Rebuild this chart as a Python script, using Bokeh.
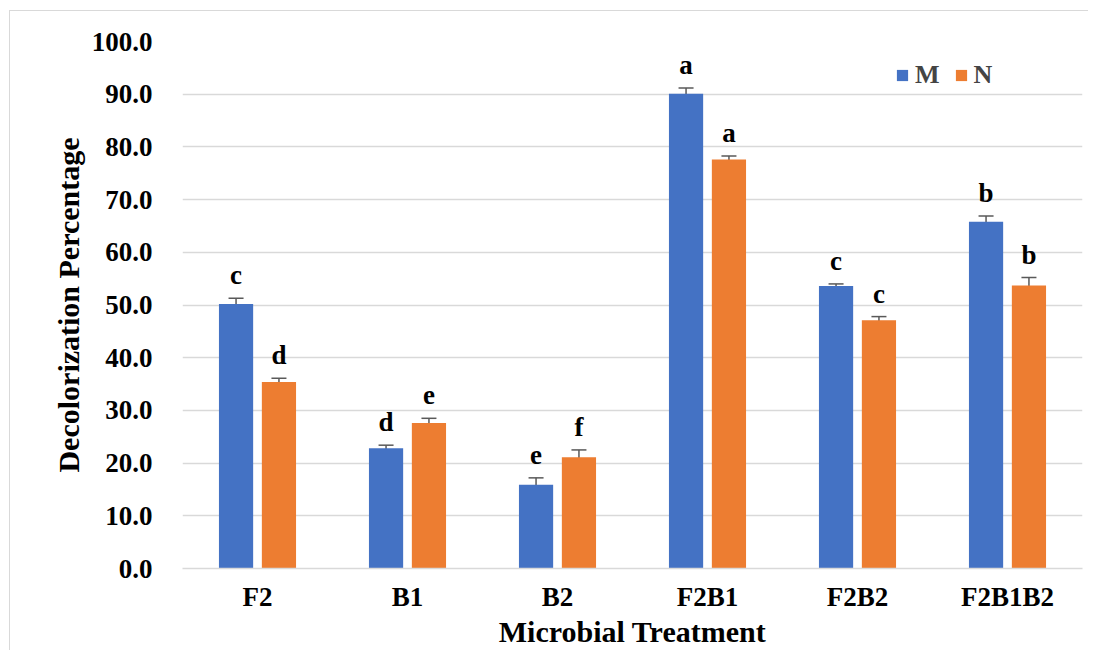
from bokeh.plotting import figure
from bokeh.models import (ColumnDataSource, FactorRange, Range1d, Whisker, Legend,
                          LegendItem, FixedTicker, NumeralTickFormatter)
from bokeh.transform import dodge
from bokeh.core.properties import value
from bokeh.embed import file_html
from bokeh.resources import INLINE

categories = ["F2", "B1", "B2", "F2B1", "F2B2", "F2B1B2"]
m_values = [50.2, 22.8, 15.9, 90.1, 53.6, 65.8]
m_errors = [1.1, 0.6, 1.3, 1.1, 0.4, 1.1]
n_values = [35.4, 27.6, 21.1, 77.6, 47.1, 53.7]
n_errors = [0.7, 0.9, 1.4, 0.65, 0.7, 1.5]
m_letters = ["c", "d", "e", "a", "c", "b"]
n_letters = ["d", "e", "f", "a", "c", "b"]
y_ticks = [0, 10, 20, 30, 40, 50, 60, 70, 80, 90, 100]

FONT = "Liberation Serif"
BLUE = "#4472C4"
ORANGE = "#ED7D31"
GRID = "#d9d9d9"

src = ColumnDataSource(dict(
    cat=categories,
    m=m_values, m_lo=[v - e for v, e in zip(m_values, m_errors)],
    m_hi=[v + e for v, e in zip(m_values, m_errors)],
    n=n_values, n_lo=[v - e for v, e in zip(n_values, n_errors)],
    n_hi=[v + e for v, e in zip(n_values, n_errors)],
    m_lab=m_letters, n_lab=n_letters,
))

p = figure(x_range=FactorRange(*categories, range_padding=0), y_range=Range1d(0, 100),
           width=1088, height=650, output_backend="svg", toolbar_location=None,
           min_border_left=182, min_border_right=6, min_border_top=41, min_border_bottom=82)
# thin outer chart border (top and left edges) drawn behind a transparent canvas border area
p.border_fill_alpha = 0
p.styles = {
    "background": ("linear-gradient(#d9d9d9, #d9d9d9) 9px 10px / 100% 1px no-repeat, "
                   "linear-gradient(#d9d9d9, #d9d9d9) 9px 10px / 1px 100% no-repeat, white"),
}
p.outline_line_color = None
p.background_fill_color = "white"

OFF = 0.143
W = 0.228
xm = dodge("cat", -OFF, range=p.x_range)
xn = dodge("cat", OFF, range=p.x_range)

rm = p.vbar(x=xm, top="m", width=W, source=src, fill_color=BLUE, line_color=None)
rn = p.vbar(x=xn, top="n", width=W, source=src, fill_color=ORANGE, line_color=None)

for base, lo, hi in ((xm, "m_lo", "m_hi"), (xn, "n_lo", "n_hi")):
    wk = Whisker(base=base, lower=lo, upper=hi, source=src, line_color="#595959",
                 line_width=1.5)
    for head in (wk.upper_head, wk.lower_head):
        head.size = 15
        head.line_color = "#595959"
        head.line_width = 1.5
    p.add_layout(wk)

for x, top, lab in ((xm, "m_hi", "m_lab"), (xn, "n_hi", "n_lab")):
    p.text(x=x, y=top, text=lab, source=src, text_align="center",
           text_baseline="alphabetic", y_offset=-23,
           text_font=value(FONT), text_font_style="bold", text_font_size="27px",
           text_color="black")

p.xgrid.grid_line_color = None
p.ygrid.grid_line_color = GRID
p.ygrid.grid_line_width = 1.5
p.yaxis.ticker = FixedTicker(ticks=y_ticks)
p.yaxis.formatter = NumeralTickFormatter(format="0.0")

for ax in (p.xaxis[0], p.yaxis[0]):
    ax.major_tick_line_color = None
    ax.minor_tick_line_color = None
    ax.major_label_text_font = FONT
    ax.major_label_text_font_style = "bold"
    ax.major_label_text_font_size = "27px"
    ax.major_label_text_color = "black"
    ax.axis_label_text_font = FONT
    ax.axis_label_text_font_style = "bold"
    ax.axis_label_text_font_size = "30px"
    ax.axis_label_text_color = "black"

p.yaxis.axis_line_color = None
p.xaxis.axis_line_color = GRID
p.xaxis.axis_line_width = 1.5
p.yaxis.major_label_standoff = 24
p.xaxis.major_label_standoff = 7
p.yaxis.axis_label = "Decolorization Percentage"
p.xaxis.axis_label = "Microbial Treatment"
p.yaxis.axis_label_standoff = 4
p.xaxis.axis_label_standoff = 0

legend = Legend(items=[LegendItem(label="M", renderers=[rm]),
                       LegendItem(label="N", renderers=[rn])],
                orientation="horizontal", location=(713, 478),
                label_text_font=FONT, label_text_font_style="bold",
                label_text_font_size="26px", glyph_width=14, glyph_height=14,
                label_standoff=6, spacing=14, padding=0, margin=0,
                border_line_color=None, background_fill_alpha=0)
p.add_layout(legend)

open("out.html", "w").write(file_html(p, INLINE))
